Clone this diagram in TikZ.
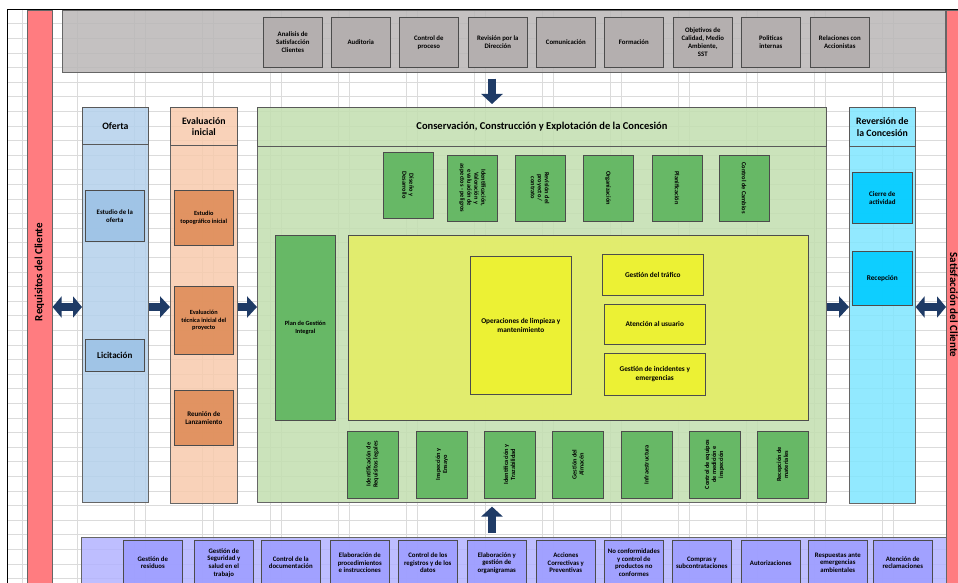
\documentclass[tikz,border=0pt]{standalone}
\usepackage{fontspec}
\setmainfont{Carlito}
\usetikzlibrary{arrows.meta}

\definecolor{redbarc}{HTML}{FF7C80}
\definecolor{topbandc}{HTML}{BAB7B7}
\definecolor{topcellc}{HTML}{B3AEAE}
\definecolor{ofertac}{HTML}{B4D1EC}
\definecolor{ofcellc}{HTML}{9DC3E6}
\definecolor{evalc}{HTML}{F8CBAD}
\definecolor{evcellc}{HTML}{DF8D59}
\definecolor{ccec}{HTML}{C3DFB0}
\definecolor{grcellc}{HTML}{5DB45D}
\definecolor{yelareac}{HTML}{E4EE66}
\definecolor{yelcellc}{HTML}{EEF22E}
\definecolor{reverc}{HTML}{80E6FF}
\definecolor{rvcellc}{HTML}{00CCFF}
\definecolor{soportec}{HTML}{B3B3FF}
\definecolor{spcellc}{HTML}{9E9EFF}
\definecolor{arrowc}{HTML}{1F3B66}

\begin{document}
\begin{tikzpicture}[x=1pt, y=-1pt,
    every node/.style={align=center, inner sep=1pt},
    gridline/.style={draw=black!14, line width=0.4pt},
    band/.style={draw=black!60, line width=0.6pt, fill opacity=0.85, text opacity=1, anchor=north west},
    colhead/.style={draw=black!65, line width=0.8pt, anchor=north west, font=\fontsize{9.8}{11.5}\selectfont\bfseries},
    cell/.style={draw=black!70, line width=0.6pt, fill opacity=0.9, text opacity=1, anchor=north west,
        font=\fontsize{6.3}{7.3}\selectfont\bfseries},
    topcell/.style={cell, fill=topcellc, minimum width=59pt, minimum height=50pt, font=\fontsize{6.8}{7.8}\selectfont\bfseries},
    botcell/.style={cell, fill=spcellc, minimum width=59pt, minimum height=45pt, font=\fontsize{6.8}{7.6}\selectfont\bfseries},
    greencell/.style={cell, fill=grcellc, anchor=center, font=\fontsize{6.3}{7}\selectfont\bfseries},
    yelcell/.style={cell, fill=yelcellc, font=\fontsize{7.3}{8.8}\selectfont\bfseries},
    blockarrow/.style={draw=arrowc, line width=8pt, -{Triangle[width=21pt,length=10pt]}},
    dblarrow/.style={draw=arrowc, line width=8pt, {Triangle[width=21pt,length=9pt]}-{Triangle[width=21pt,length=9pt]}},
]
\useasboundingbox (0,0) rectangle (958,583);
\fill[white] (0,0) rectangle (958,583);

% spreadsheet grid
\foreach \y in {9,23.6,...,583}
    \draw[gridline] (7,\y) -- (958,\y);
\foreach \x in {134,202,...,958}
{
    \draw[gridline] (\x,9) -- (\x,583);
    \draw[gridline] (\x+11,9) -- (\x+11,583);
}
\draw[gridline] (22,9) -- (22,583);
\draw[gridline] (77,9) -- (77,583);
\draw[black, line width=0.8pt] (7,583) -- (7,9) -- (958,9);

% client bars
\node[band, fill=redbarc, fill opacity=1, minimum width=25pt, minimum height=590pt] (reqcli) at (27,10) {};
\node[rotate=90, font=\fontsize{11}{13}\selectfont\bfseries] (reqlabel) at (39.5,272) {Requisitos del Cliente};
\node[band, fill=redbarc, fill opacity=1, minimum width=25pt, minimum height=590pt] (satcli) at (946,10) {};
\node[rotate=-90, font=\fontsize{11}{13}\selectfont\bfseries] (satlabel) at (954,305) {Satisfacción del Cliente};

% management processes
\node[band, fill=topbandc, minimum width=883pt, minimum height=62pt] (topband) at (62,10) {};
\foreach \x/\t [count=\i] in {263/{Analisis de\\Satisfacción\\Clientes}, 331/{Auditoria},
    399/{Control de\\proceso}, 468/{Revisión por la\\Dirección}, 536/{Comunicación},
    604/{Formación}, 673/{Objetivos de\\Calidad, Medio\\Ambiente,\\SST},
    741/{Politicas\\internas}, 810/{Relaciones con\\Accionistas}}
    \node[topcell] (top\i) at (\x,17) {\t};

% Oferta
\node[band, fill=ofertac, minimum width=66pt, minimum height=395pt] (oferta) at (82,107) {};
\node[colhead, minimum width=66pt, minimum height=37pt] (ofertahead) at (oferta.north west) {Oferta};
\node[cell, fill=ofcellc, minimum width=59pt, minimum height=51pt, font=\fontsize{6.8}{7.8}\selectfont\bfseries] (estoferta) at (85,190) {Estudio de la\\oferta};
\node[cell, fill=ofcellc, minimum width=59pt, minimum height=32pt, font=\fontsize{9}{10}\selectfont\bfseries] (licit) at (85,339) {Licitación};

% Evaluacion inicial
\node[band, fill=evalc, minimum width=67pt, minimum height=396pt] (evalini) at (170,107) {};
\node[colhead, minimum width=67pt, minimum height=38pt] (evalhead) at (evalini.north west) {Evaluación\\inicial};
\node[cell, fill=evcellc, minimum width=59pt, minimum height=55pt] (topogr) at (174,190) {Estudio\\topográfico inicial};
\node[cell, fill=evcellc, minimum width=59pt, minimum height=68pt] (evaltec) at (174,286) {Evaluación\\técnica inicial del\\proyecto};
\node[cell, fill=evcellc, minimum width=59pt, minimum height=55pt, font=\fontsize{7}{8.2}\selectfont\bfseries] (reunion) at (174,390) {Reunión de\\Lanzamiento};

% Conservacion, Construccion y Explotacion
\node[band, fill=ccec, minimum width=569pt, minimum height=395pt] (cce) at (257,107) {};
\node[colhead, minimum width=569pt, minimum height=39pt, font=\fontsize{10.5}{12}\selectfont\bfseries] (ccehead) at (cce.north west) {Conservación, Construcción y Explotación de la Concesión};
\foreach \x/\y/\t [count=\i] in {408/185/{Diseño y\\Desarrollo},
    472.5/188/{Identificación,\\Valoración y\\evaluación de\\aspectos - peligros},
    540/188/{Revisión del\\proyecto /\\contrato}, 608/188/{Organización},
    677/188/{Planificación}, 744/188/{Control de Cambios}}
    \node[greencell, rotate=-90, minimum width=66pt, minimum height=50pt] (plan\i) at (\x,\y) {\t};
\foreach \x/\t [count=\i] in {372.5/{Identificación de\\Requisitos legales}, 442/{Inspección y\\Ensayo},
    509.5/{Identificación y\\Trazabilidad}, 578/{Gestión del\\Almacén}, 646.5/{Infraestructura},
    714.5/{Control de equipos\\de medición e\\inspección}, 782.5/{Recepción de\\materiales}}
    \node[greencell, rotate=90, minimum width=67pt, minimum height=51pt] (apoyo\i) at (\x,464.5) {\t};
\node[cell, fill=grcellc, minimum width=60pt, minimum height=185pt] (plangest) at (275,235) {Plan de Gestión\\Integral};
\node[cell, fill=yelareac, minimum width=460pt, minimum height=185pt] (explot) at (348,235) {};
\node[yelcell, minimum width=101pt, minimum height=138pt] (limpieza) at (470,256) {Operaciones de limpieza y\\mantenimiento};
\node[yelcell, minimum width=101pt, minimum height=41pt] (trafico) at (602,254) {Gestión del tráfico};
\node[yelcell, minimum width=101pt, minimum height=40pt] (usuario) at (604,304) {Atención al usuario};
\node[yelcell, minimum width=101pt, minimum height=42pt] (incid) at (604,353) {Gestión de incidentes y\\emergencias};

% Reversion
\node[band, fill=reverc, minimum width=66pt, minimum height=396pt] (rever) at (849,107) {};
\node[colhead, minimum width=66pt, minimum height=39pt] (reverhead) at (rever.north west) {Reversión de\\la Concesión};
\node[cell, fill=rvcellc, minimum width=60pt, minimum height=51pt, font=\fontsize{7}{8.2}\selectfont\bfseries] (cierre) at (852,172) {Cierre de\\actividad};
\node[cell, fill=rvcellc, minimum width=60pt, minimum height=54pt, font=\fontsize{7.3}{8.5}\selectfont\bfseries] (recep) at (852,251) {Recepción};

% support processes
\node[band, fill=soportec, minimum width=865pt, minimum height=60pt] (soporte) at (81,537) {};
\foreach \x/\t [count=\i] in {123/{Gestión de\\residuos}, 194/{Gestión de\\Seguridad y\\salud en el\\trabajo},
    261/{Control de la\\documentación}, 330/{Elaboración de\\procedimientos\\e instrucciones},
    398/{Control de los\\registros y de los\\datos}, 467/{Elaboración y\\gestión de\\organigramas},
    536/{Acciones\\Correctivas y\\Preventivas}, 604/{No conformidades\\y control de\\productos no\\conformes},
    672/{Compras y\\subcontrataciones}, 741/{Autorizaciones},
    808/{Respuestas ante\\emergencias\\ambientales}, 873/{Atención de\\reclamaciones}}
    \node[botcell] (sop\i) at (\x,540) {\t};

% flow arrows
\coordinate (midrow) at (0,307);
\coordinate (axis) at (492,0);
\draw[dblarrow] (reqcli.east |- midrow) -- (oferta.west |- midrow);
\draw[blockarrow] (oferta.east |- midrow) -- (evalini.west |- midrow);
\draw[blockarrow] (evalini.east |- midrow) -- (cce.west |- midrow);
\draw[blockarrow] (cce.east |- midrow) -- (rever.west |- midrow);
\draw[dblarrow] (rever.east |- midrow) -- (satcli.west |- midrow);
\draw[blockarrow, shorten <=6pt, shorten >=3pt] (topband.south -| axis) -- (cce.north -| axis);
\draw[blockarrow, shorten <=4pt, shorten >=4pt] (soporte.north -| axis) -- (cce.south -| axis);
\end{tikzpicture}
\end{document}
